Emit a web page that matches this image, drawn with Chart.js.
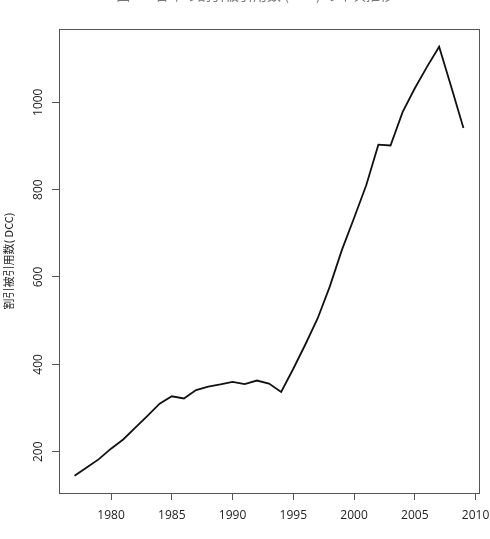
<!DOCTYPE html>
<html>
<head>
<meta charset="utf-8">
<script src="https://cdn.jsdelivr.net/npm/chart.js@4/dist/chart.umd.min.js"></script>
<style>
html,body{margin:0;padding:0;background:#fff;}
#wrap{width:490px;height:539px;position:relative;}
</style>
</head>
<body>
<div id="wrap"><canvas id="c" width="490" height="539"></canvas></div>
<script>
const years = [1977,1978,1979,1980,1981,1982,1983,1984,1985,1986,1987,1988,1989,1990,1991,1992,1993,1994,1995,1996,1997,1998,1999,2000,2001,2002,2003,2004,2005,2006,2007,2008,2009];
const dcc = [145,164,183,207,228,255,282,310,327,322,341,349,354,360,355,363,356,337,390,446,505,578,662,735,810,903,901,978,1032,1081,1127,1035,941];
const xTicks = [1980,1985,1990,1995,2000,2005,2010];
const yTicks = [200,400,600,800,1000];
const yTitle = '割引被引用数( DCC)';
const chartTitle = '図 1　各年の割引被引用数 (DCC) の年次推移';

const xMin = 1975.72, xMax = 2010.28;
const yMin = 105.5, yMax = 1167.7;

const tickFont = '12px "Open Sans", "DejaVu Sans", sans-serif';

const decor = {
  id: 'decor',
  afterDraw(chart) {
    const ctx = chart.ctx, a = chart.chartArea, ys = chart.scales.y, xs = chart.scales.x;
    ctx.save();
    // box
    ctx.strokeStyle = '#555';
    ctx.lineWidth = 1;
    ctx.strokeRect(Math.round(a.left) + 0.5, Math.round(a.top) + 0.5, Math.round(a.right - a.left), Math.round(a.bottom - a.top));
    ctx.fillStyle = '#222';
    ctx.font = tickFont;
    ctx.textAlign = 'center';
    ctx.textBaseline = 'middle';
    // x tick labels
    xTicks.forEach(v => {
      ctx.fillText(String(v), xs.getPixelForValue(v), a.bottom + 23);
    });
    // y tick labels rotated
    yTicks.forEach(v => {
      const py = ys.getPixelForValue(v);
      ctx.save();
      ctx.translate(39, py);
      ctx.rotate(-Math.PI / 2);
      ctx.fillText(String(v), 0, 0);
      ctx.restore();
    });
    // y axis title
    ctx.save();
    ctx.font = '11px "Noto Sans CJK JP", sans-serif';
    ctx.translate(9, (a.top + a.bottom) / 2);
    ctx.rotate(-Math.PI / 2);
    ctx.fillText(yTitle, 0, 0);
    ctx.restore();
    // title (cropped at top in the reference)
    ctx.font = '14px "Noto Sans CJK JP", sans-serif';
    ctx.fillStyle = '#777';
    ctx.textBaseline = 'alphabetic';
    ctx.fillText(chartTitle, 255, 0);
    ctx.restore();
  }
};

new Chart(document.getElementById('c'), {
  type: 'line',
  data: {
    datasets: [{
      data: years.map((y, i) => ({x: y, y: dcc[i]})),
      borderColor: '#111',
      borderWidth: 1.8,
      pointRadius: 0,
      tension: 0,
      fill: false
    }]
  },
  options: {
    responsive: false,
    animation: false,
    layout: {padding: {top: 29, right: 11, left: 0, bottom: 0}},
    plugins: {legend: {display: false}, tooltip: {enabled: false}, title: {display: false}},
    scales: {
      x: {
        type: 'linear',
        min: xMin, max: xMax,
        afterBuildTicks: s => { s.ticks = xTicks.map(v => ({value: v})); },
        afterFit: s => { s.height = 46; },
        grid: {drawOnChartArea: false, drawTicks: true, tickLength: 7, color: '#555'},
        border: {display: false},
        ticks: {display: false}
      },
      y: {
        type: 'linear',
        min: yMin, max: yMax,
        afterBuildTicks: s => { s.ticks = yTicks.map(v => ({value: v})); },
        afterFit: s => { s.width = 59; },
        grid: {drawOnChartArea: false, drawTicks: true, tickLength: 7, color: '#555'},
        border: {display: false},
        ticks: {display: false}
      }
    }
  },
  plugins: [decor]
});
</script>
</body>
</html>
